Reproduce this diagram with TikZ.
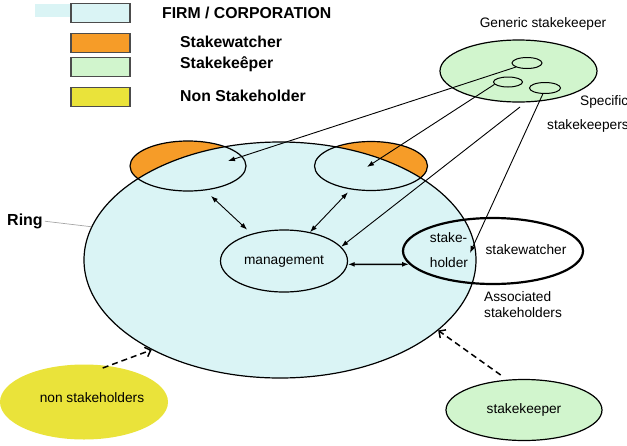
\documentclass[tikz,border=0pt]{standalone}
\usepackage{fontspec}
\setmainfont{Liberation Sans}
\usetikzlibrary{shapes.geometric, arrows.meta}

\definecolor{firmcyan}{RGB}{218,244,245}
\definecolor{watchorange}{RGB}{246,156,40}
\definecolor{keepgreen}{RGB}{209,245,205}
\definecolor{nonyellow}{RGB}{234,227,58}

\begin{document}
\begin{tikzpicture}[x=1pt, y=-1pt,
       oval/.style={ellipse, draw, line width=1.2pt, inner sep=0pt},
       lbl/.style={font=\fontsize{13.7}{16}\selectfont, inner sep=0pt},
       key/.style={draw=black!70, line width=1.6pt, minimum width=59pt, minimum height=19pt, inner sep=0pt},
       keytext/.style={font=\bfseries\fontsize{15.8}{18}\selectfont, anchor=west, inner sep=0pt},
       link/.style={line width=0.9pt, -{Latex[length=7pt,width=5pt]}},
       both/.style={line width=0.9pt, {Latex[length=7pt,width=5pt]}-{Latex[length=7pt,width=5pt]}},
       hint/.style={line width=1.5pt, dash pattern=on 6pt off 4pt, -{Straight Barb[length=5pt,width=10pt]}}]
       \useasboundingbox (0,0) rectangle (627,445);
       \fill[firmcyan] (35,4) rectangle (71,17);
       \node[key, fill=firmcyan] (keyfirm) at (100.5,13) {};
       \node[key, fill=watchorange] (keywatch) at (100.5,43) {};
       \node[key, fill=keepgreen] (keykeep) at (100.5,67) {};
       \node[key, fill=nonyellow] (keynon) at (100.5,97) {};
       \node[keytext] (firmtext) at (162,13) {FIRM / CORPORATION};
       \node[keytext] (watchtext) at (180,42) {Stakewatcher};
       \node[keytext] (keeptext) at (180,64) {Stakekeêper};
       \node[keytext] (nontext) at (180,96) {Non Stakeholder};
       \fill[watchorange] (188,166) ellipse[x radius=58, y radius=25];
       \fill[watchorange] (371,166) ellipse[x radius=56.5, y radius=24.5];
       \node[oval, fill=firmcyan, minimum width=392, minimum height=236] (big) at (280,260) {};
       \node[oval, minimum width=116, minimum height=50] (lw) at (188,166) {};
       \node[oval, minimum width=113, minimum height=49] (rw) at (371,166) {};
       \node[oval, lbl, minimum width=127, minimum height=62] (mgmt) at (284,261) {management};
       \node[oval, line width=2.2pt, minimum width=180, minimum height=66] (shell) at (493,251) {};
       \node[lbl, align=left, font=\fontsize{13.7}{25}\selectfont] (holder) at (449,250) {stake-\\holder};
       \node[lbl] (watcher) at (526,250) {stakewatcher};
       \node[lbl, align=left, anchor=west] (assoc) at (484,305) {Associated\\stakeholders};
       \node[oval, fill=keepgreen, minimum width=157, minimum height=62] (generic) at (518.5,71) {};
       \node[oval, line width=1pt, minimum width=30, minimum height=11] (spec1) at (527,63) {};
       \node[oval, line width=1pt, minimum width=29, minimum height=10] (spec2) at (508,82) {};
       \node[oval, line width=1pt, minimum width=31, minimum height=11] (spec3) at (545,88) {};
       \node[lbl] (genericlabel) at (543,24) {Generic stakekeeper};
       \node[lbl, anchor=west] (speclabel) at (580,102) {Specific};
       \node[lbl, anchor=west] (keeperslabel) at (547,126) {stakekeepers};
       \node[ellipse, fill=nonyellow, inner sep=0pt, minimum width=168, minimum height=75] (nonholder) at (84,402) {};
       \node[lbl] (nonlabel) at (92,398) {non stakeholders};
       \node[oval, lbl, fill=keepgreen, minimum width=156, minimum height=61] (keeper) at (524,410) {stakekeeper};
       \node[font=\bfseries\fontsize{16}{18}\selectfont, anchor=west, inner sep=0pt] (ringlabel) at (7,221) {Ring};
       \draw[black!35, line width=0.7pt, shorten <=2pt] (ringlabel.east) -- (big.170);
       \coordinate (lwin) at (228,161);
       \coordinate (rwin) at (367,167);
       \coordinate (holdin) at (470,253);
       \coordinate (loose) at (520,107);
       \draw[link] (spec1.200) -- (lwin);
       \draw[link] (spec2.190) -- (rwin);
       \draw[link] (loose) -- (mgmt.14);
       \draw[link] (spec3.250) -- (holdin);
       \draw[both, shorten <=8pt, shorten >=6pt] (lw.-55) -- (mgmt.140);
       \draw[both, shorten <=4pt] (rw.229) -- (mgmt.48);
       \draw[both, line width=1.5pt] (mgmt.-3) -- (shell.189);
       \draw[hint, shorten <=-6pt] (nonholder.56) -- (big.215);
       \draw[hint, shorten <=8pt] (keeper.119) -- (big.-24);
\end{tikzpicture}
\end{document}
